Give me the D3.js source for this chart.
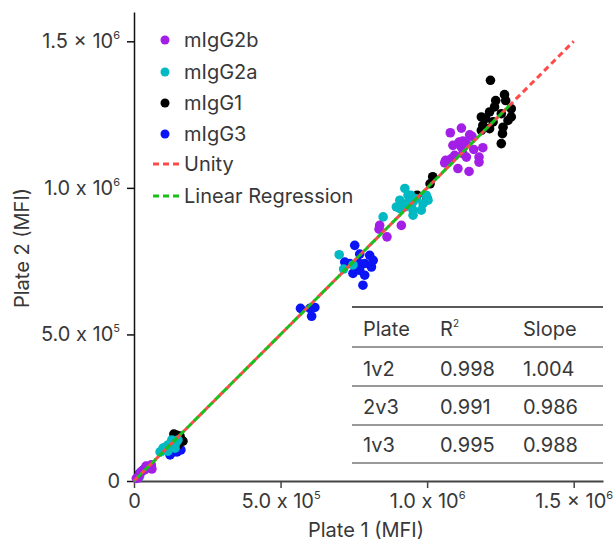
<!DOCTYPE html>
<html><head><meta charset="utf-8">
<script src="https://cdn.jsdelivr.net/npm/d3@7"></script>
<style>body{margin:0;background:#fff}svg{display:block}</style>
</head><body><svg id="c" width="613" height="543"></svg>
<script>
// ---- data (MFI) ----
const mIgG2b = [[1079000,1188000],[1117000,1204000],[1145000,1181000],[1153000,1176000],[1109000,1156000],[1122000,1160000],[1088000,1145000],[1117000,1139000],[1134000,1151000],[1159000,1131000],[1094000,1111000],[1071000,1088000],[1063000,1094000],[1083000,1100000],[1122000,1117000],[1134000,1105000],[1177000,1105000],[1177000,1088000],[1105000,1066000],[1143000,1056000],[1190000,1137000],[1060000,1085000],[838000,872000],[836000,859000],[863000,833000],[912000,872000],[8000,9000],[25000,32000],[48000,49000],[59000,55000],[37000,39000],[20000,24000],[34000,37000],[55000,48000],[41000,51000],[61000,41000],[14000,10000]];
const mIgG2a = [[924000,998000],[935000,975000],[907000,958000],[895000,935000],[929000,946000],[952000,952000],[963000,963000],[997000,975000],[1003000,958000],[986000,946000],[952000,924000],[980000,924000],[952000,907000],[924000,935000],[850000,901000],[907000,929000],[944000,975000],[700000,772000],[715000,723000],[747000,737000],[93000,100000],[105000,106000],[116000,123000],[139000,134000],[150000,140000],[126000,130000],[19000,15000],[109000,116000],[89000,99000],[99000,112000],[123000,119000],[143000,130000],[140000,112000],[116000,102000],[129000,140000]];
const mIgG1 = [[1216000,1367000],[1234000,1298000],[1264000,1318000],[1268000,1298000],[1230000,1276000],[1213000,1259000],[1185000,1242000],[1287000,1270000],[1287000,1242000],[1253000,1253000],[1190000,1213000],[1259000,1207000],[1185000,1196000],[1225000,1225000],[1276000,1230000],[1257000,1185000],[1253000,1151000],[1213000,1202000],[1200000,1237000],[1019000,1038000],[1010000,1014000],[966000,975000],[1000000,963000],[144000,157000],[156000,140000],[150000,123000],[157000,153000],[167000,136000],[136000,160000]];
const mIgG3 = [[753000,804000],[770000,774000],[804000,770000],[816000,753000],[787000,742000],[736000,742000],[747000,708000],[787000,702000],[810000,730000],[770000,719000],[781000,668000],[719000,747000],[764000,747000],[568000,589000],[600000,589000],[617000,592000],[606000,562000],[139000,100000],[150000,111000],[31000,37000],[19000,26000],[123000,99000],[123000,89000],[147000,99000],[160000,106000]];
const seriesNames = ["mIgG2b","mIgG2a","mIgG1","mIgG3"];
const seriesColors = ["#a31ee6","#00b9c2","#000000","#0a14f5"];
const unityRange = [0, 1500000];
const regSlope = 1.0, regIntercept = 0, regRange = [0, 1290000];
const tickValues = [0, 500000, 1000000, 1500000];
const tickMant = ["0","5.0 x 10","1.0 x 10","1.5 x 10"];
const tickExp = ["","5","6","6"];
const tableHeader = ["Plate","R","Slope"];
const tablePlate = ["1v2","2v3","1v3"];
const tableR2 = ["0.998","0.991","0.995"];
const tableSlope = ["1.004","0.986","0.988"];

// ---- layout ----
const svg = d3.select("#c");
const font = "Inter, 'Noto Sans', sans-serif";
const txt = "#383838";
const FS = 20;
const x = d3.scaleLinear().domain([0,1600000]).range([134,603]);
const y = d3.scaleLinear().domain([0,1600000]).range([481,12]);

function fmtTicks(sel){
  sel.selectAll(".tick text").each(function(d){
    const i = tickValues.indexOf(d);
    const t = d3.select(this).text(null);
    t.append("tspan").text(tickMant[i]);
    if(tickExp[i]) t.append("tspan").attr("font-size",11).attr("dy",-9).text(tickExp[i]);
  });
}

const xa = svg.append("g").attr("transform","translate(0,481)")
  .call(d3.axisBottom(x).tickValues(tickValues).tickSize(7).tickPadding(6).tickSizeOuter(0));
xa.select(".domain").attr("stroke","#444").attr("stroke-width",2);
xa.selectAll(".tick line").attr("stroke","#444").attr("stroke-width",1.5);
xa.selectAll(".tick text").attr("font-family",font).attr("font-size",FS).attr("fill",txt);
fmtTicks(xa);

const ya = svg.append("g").attr("transform","translate(134,0)")
  .call(d3.axisLeft(y).tickValues(tickValues).tickSize(7).tickPadding(7).tickSizeOuter(0));
ya.select(".domain").attr("stroke","#111").attr("stroke-width",1.5);
ya.selectAll(".tick line").attr("stroke","#111").attr("stroke-width",1.5);
ya.selectAll(".tick text").attr("font-family",font).attr("font-size",FS).attr("fill",txt);
fmtTicks(ya);

svg.append("text").attr("x",366).attr("y",537).attr("text-anchor","middle")
  .attr("font-family",font).attr("font-size",FS).attr("fill",txt).text("Plate 1 (MFI)");
svg.append("text").attr("transform","translate(29,248) rotate(-90)").attr("text-anchor","middle")
  .attr("font-family",font).attr("font-size",FS).attr("fill",txt).text("Plate 2 (MFI)");

// ---- points ----
const R = 4.8;
function drawPts(data, color){
  svg.append("g").selectAll("circle").data(data).join("circle")
    .attr("cx",d=>x(d[0])).attr("cy",d=>y(d[1])).attr("r",R).attr("fill",color);
}
drawPts(mIgG3, seriesColors[3]);
drawPts(mIgG1, seriesColors[2]);
drawPts(mIgG2a, seriesColors[1]);
drawPts(mIgG2b, seriesColors[0]);

// ---- lines ----
const line = d3.line().x(d=>x(d[0])).y(d=>y(d[1]));
svg.append("path").attr("d",line(unityRange.map(v=>[v,v])))
  .attr("stroke","#ff4a4a").attr("stroke-width",3).attr("fill","none").attr("stroke-dasharray","6,4");
svg.append("path").attr("d",line(regRange.map(v=>[v,regSlope*v+regIntercept])))
  .attr("stroke","#18c018").attr("stroke-width",3).attr("fill","none").attr("stroke-dasharray","6,4").attr("stroke-dashoffset",-5);

// ---- legend ----
const lg = svg.append("g").attr("font-family",font).attr("font-size",FS).attr("fill",txt);
const lgY = [40,72,103,134];
seriesNames.forEach((n,i)=>{
  lg.append("circle").attr("cx",165).attr("cy",lgY[i]).attr("r",4.5).attr("fill",seriesColors[i]);
  lg.append("text").attr("x",184).attr("y",lgY[i]+7).text(n);
});
[["Unity","#ff4a4a",164],["Linear Regression","#18c018",196]].forEach(([n,c,yy])=>{
  lg.append("line").attr("x1",153).attr("x2",180).attr("y1",yy).attr("y2",yy)
    .attr("stroke",c).attr("stroke-width",3).attr("stroke-dasharray","6,4");
  lg.append("text").attr("x",184).attr("y",yy+7).text(n);
});

// ---- table ----
const tb = svg.append("g").attr("font-family",font).attr("font-size",FS).attr("fill",txt);
const colX = [363,440,523];
const lineYs = [307,347,386,425,463];
lineYs.forEach((ly,i)=>{
  tb.append("line").attr("x1",352).attr("x2",603).attr("y1",ly).attr("y2",ly)
    .attr("stroke", i===0? "#222":"#777").attr("stroke-width",1.5);
});
tableHeader.forEach((h,i)=>{
  const t = tb.append("text").attr("x",colX[i]).attr("y",336).text(h);
  if(h==="R") t.append("tspan").attr("font-size",10).attr("dy",-9).text("2");
});
const rowY = [376,414,452];
tablePlate.forEach((p,i)=>{
  tb.append("text").attr("x",colX[0]).attr("y",rowY[i]).text(p);
  tb.append("text").attr("x",colX[1]).attr("y",rowY[i]).text(tableR2[i]);
  tb.append("text").attr("x",colX[2]).attr("y",rowY[i]).text(tableSlope[i]);
});
</script></body></html>
